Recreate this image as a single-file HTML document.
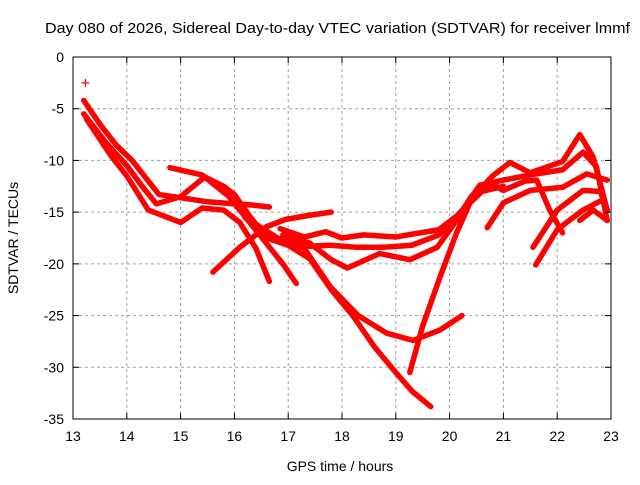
<!DOCTYPE html>
<html><head><meta charset="utf-8"><style>
body{margin:0;background:#fff}
svg text{font-family:"Liberation Sans",sans-serif;font-size:14px;fill:#000}
</style></head><body>
<svg id="chart" width="640" height="480" xmlns="http://www.w3.org/2000/svg">
<text x="45" y="33" textLength="585" lengthAdjust="spacingAndGlyphs" style="font-size:15px">Day 080 of 2026, Sidereal Day-to-day VTEC variation (SDTVAR) for receiver lmmf</text>
<text x="340" y="471" text-anchor="middle">GPS time / hours</text>
<text transform="translate(18,238) rotate(-90)" text-anchor="middle">SDTVAR / TECUs</text>
<g id="grid"></g><g id="series"></g><g id="ticks"></g>
<rect x="73" y="57" width="538" height="362" fill="none" stroke="#000" stroke-width="1"/>
</svg>
<script>
const xTicks=[13,14,15,16,17,18,19,20,21,22,23];
const yTicks=[0,-5,-10,-15,-20,-25,-30,-35];
const trackA=[[13.2,-4.2],[13.5,-6.5],[13.8,-8.5],[14.1,-10],[14.4,-12],[14.6,-13.3],[15.0,-13.6],[15.5,-14.0],[16.0,-14.2],[16.3,-14.3],[16.65,-14.5]];
const trackB=[[13.2,-5.5],[13.6,-8.2],[14.0,-10.5],[14.3,-12.6],[14.55,-14.2],[15.0,-13.5],[15.45,-11.6],[15.8,-12.5],[16.0,-13.3],[16.3,-15.5],[16.6,-17.5],[17.0,-18.2],[17.4,-19.5],[17.8,-22.5],[18.2,-25],[18.6,-28],[19.0,-30.5],[19.3,-32.3],[19.65,-33.8]];
const trackC=[[13.25,-6],[13.7,-9.5],[14.0,-11.5],[14.4,-14.8],[15.0,-16],[15.4,-14.6],[15.8,-14.8],[16.1,-16],[16.4,-18.5],[16.65,-21.7]];
const trackD=[[14.8,-10.7],[15.4,-11.4],[15.9,-13.5],[16.5,-17.4],[16.9,-20],[17.15,-21.9]];
const trackE=[[15.6,-20.8],[16.1,-18.4],[16.6,-16.4],[16.95,-15.7],[17.4,-15.3],[17.8,-15]];
const trackF=[[16.85,-16.6],[17.3,-17.4],[17.7,-16.9],[18.0,-17.5],[18.4,-17.2],[19.0,-17.4],[19.8,-16.7],[20.2,-15.1],[20.56,-12.4],[21.0,-11.9],[21.5,-11.4],[22.1,-10.9],[22.48,-9.2],[22.73,-10.6],[22.93,-15.8]];
const trackG=[[16.9,-17.2],[17.4,-18.0],[17.8,-19.6],[18.1,-20.4],[18.7,-19],[19.26,-19.6],[19.77,-18.4],[20.13,-15.8],[20.4,-13.5],[20.75,-12.2],[21.0,-12.9],[21.4,-12],[21.62,-11.9],[21.86,-14.8],[22.1,-17]];
const trackH=[[17.0,-17.8],[17.4,-18.3],[17.78,-18.2],[18.28,-18.4],[18.76,-18.4],[19.3,-18.2],[19.8,-17.2],[20.2,-15],[20.6,-13],[21.0,-12.5]];
const trackI=[[16.2,-15.5],[16.8,-17.5],[17.3,-18.5],[17.78,-22.2],[18.3,-25],[18.83,-26.7],[19.32,-27.4],[19.82,-26.4],[20.23,-25]];
const trackJ=[[19.26,-30.5],[19.5,-26],[19.82,-21.3],[20.13,-17],[20.43,-13.5],[20.8,-11.5],[21.12,-10.2],[21.5,-11.2],[22.1,-10.1],[22.42,-7.5],[22.67,-9.7],[22.93,-14.8]];
const trackK=[[20.7,-16.5],[21.0,-14.1],[21.5,-12.9],[22.1,-12.6],[22.55,-11.3],[22.93,-11.9]];
const trackL=[[21.55,-18.4],[22.0,-14.8],[22.48,-12.9],[22.8,-13],[22.93,-14.8]];
const trackM=[[21.6,-20.1],[22.0,-16.7],[22.48,-14.8],[22.85,-13.8]];
const trackN=[[22.42,-15.8],[22.67,-14.8],[22.93,-15.8]];
const outlier=[[13.23,-2.5]];
const tracks=[trackA,trackB,trackC,trackD,trackE,trackF,trackG,trackH,trackI,trackJ,trackK,trackL,trackM,trackN];

const NS="http://www.w3.org/2000/svg";
const X0=73,X1=611,Y0=57,Y1=419;
function xs(v){return X0+(v-13)/10*(X1-X0);}
function ys(v){return Y0+(0-v)/35*(Y1-Y0);}
function mk(tag,attrs,parent){const e=document.createElementNS(NS,tag);for(const k in attrs)e.setAttribute(k,attrs[k]);parent.appendChild(e);return e;}
const grid=document.getElementById('grid'),ticks=document.getElementById('ticks'),series=document.getElementById('series');
xTicks.forEach(t=>{
  const x=xs(t);
  if(t>13&&t<23){const g=mk('line',{x1:x,x2:x,y1:Y0,y2:Y1,stroke:'#a0a0a0','stroke-dasharray':'3,3'},grid);
  
  }
  mk('line',{x1:x,x2:x,y1:Y1,y2:Y1-6,stroke:'#000'},ticks);
  mk('line',{x1:x,x2:x,y1:Y0,y2:Y0+6,stroke:'#000'},ticks);
  const l=mk('text',{x:x,y:Y1+22,'text-anchor':'middle'},ticks);l.textContent=t;
  
  
});
yTicks.forEach(t=>{
  const y=ys(t);
  if(t<0&&t>-35){const g=mk('line',{x1:X0,x2:X1,y1:y,y2:y,stroke:'#a0a0a0','stroke-dasharray':'3,3'},grid);
  
  }
  mk('line',{x1:X0,x2:X0+6,y1:y,y2:y,stroke:'#000'},ticks);
  mk('line',{x1:X1,x2:X1-6,y1:y,y2:y,stroke:'#000'},ticks);
  const l=mk('text',{x:X0-9,y:y+5,'text-anchor':'end'},ticks);l.textContent=t;
  
  
});
tracks.forEach((tr,i)=>{
  const p=mk('polyline',{points:tr.map(d=>xs(d[0])+','+ys(d[1])).join(' '),fill:'none',stroke:'#ff0000','stroke-width':5.5,'stroke-linejoin':'round','stroke-linecap':'round'},series);
  
  
});
outlier.forEach(d=>{
  const x=xs(d[0]),y=ys(d[1]);
  const g=mk('path',{d:`M${x-4},${y}H${x+4}M${x},${y-4}V${y+4}`,stroke:'#ff0000','stroke-width':1.2},series);
  
  
});
</script>
</body></html>
